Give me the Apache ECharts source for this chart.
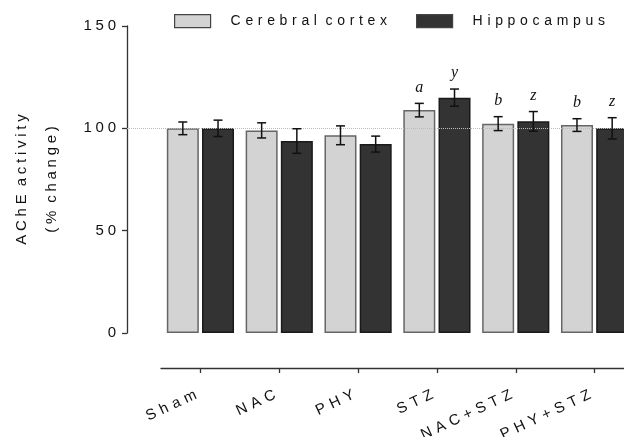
<!DOCTYPE html>
<html>
<head>
<meta charset="utf-8">
<script src="https://cdn.jsdelivr.net/npm/echarts@6/dist/echarts.min.js"></script>
<style>
  html, body { margin: 0; padding: 0; background: #fff; }
  #chart { width: 624px; height: 437px; }
</style>
</head>
<body>
<div id="chart"></div>
<script>
// data
const groups = ['Sham', 'NAC', 'PHY', 'STZ', 'NAC+STZ', 'PHY+STZ']
const cortexMean = [100, 99, 96.6, 108.9, 102.3, 101.6]
const cortexErr = [3.1, 3.7, 4.6, 3.3, 3.4, 3.1]
const hippoMean = [100, 93.8, 92.3, 115, 103.4, 100]
const hippoErr = [4, 6, 3.9, 4.2, 4.8, 5.2]
const cortexSig = ['', '', '', 'a', 'b', 'b']
const hippoSig = ['', '', '', 'y', 'z', 'z']
const refLine = 100

const FONT = 'Liberation Sans, Arial, sans-serif'
// GraphPad style wide letter spacing (unicode fixed-width spaces between letters)
function spaced(s, sp) {
  sp = sp || '\u2004'
  return s.split(' ').map(w => w.split('').join(sp)).join(sp + ' ')
}

function errRender(shift, letters) {
  return function (params, api) {
    const i = api.value(0)
    const hi = api.coord([i, api.value(1) + api.value(2)])
    const lo = api.coord([i, api.value(1) - api.value(2)])
    const x = hi[0] + shift
    const cap = 4.5
    const st = { stroke: '#111', lineWidth: 1.5 }
    const kids = [
      { type: 'line', shape: { x1: x, y1: hi[1], x2: x, y2: lo[1] }, style: st },
      { type: 'line', shape: { x1: x - cap, y1: hi[1], x2: x + cap, y2: hi[1] }, style: st },
      { type: 'line', shape: { x1: x - cap, y1: lo[1], x2: x + cap, y2: lo[1] }, style: st }
    ]
    if (letters[i]) {
      kids.push({
        type: 'text',
        style: {
          text: letters[i], x: x, y: hi[1] - 8,
          align: 'center', verticalAlign: 'bottom',
          font: 'italic 16px "Liberation Serif", "Times New Roman", serif', fill: '#111'
        }
      })
    }
    return { type: 'group', children: kids }
  }
}

const chart = echarts.init(document.getElementById('chart'))

// the bar grid reaches 35px lower than the value axis so the category axis sits detached below the bars
const pxPerUnit = (333 - 26) / 150
const barAxisMin = -35 / pxPerUnit

const option = {
  animation: false,
  grid: [
    { left: 127, right: -10, top: 26, bottom: 104, outerBoundsMode: 'none' },
    { left: 161, right: -10, top: 26, bottom: 69, outerBoundsMode: 'none' }
  ],
  legend: {
    data: ['Cerebral cortex', 'Hippocampus'],
    left: 174, top: 14, padding: 0,
    icon: 'rect',
    itemWidth: 36, itemHeight: 13, itemGap: 29,
    itemStyle: { borderColor: '#444', borderWidth: 1.2 },
    formatter: name => spaced(name),
    textStyle: { fontFamily: FONT, fontSize: 14, color: '#111', padding: [0, 0, 0, 15] }
  },
  xAxis: [
    { gridIndex: 0, type: 'value', min: 0, max: 1, show: false },
    {
      gridIndex: 1, type: 'category', data: groups,
      axisLine: { onZero: false, lineStyle: { color: '#333', width: 1.3 } },
      axisTick: { show: true, alignWithLabel: true, length: 5, lineStyle: { color: '#333', width: 1.3 } },
      axisLabel: {
        rotate: 25, margin: 24, interval: 0, color: '#111',
        fontFamily: FONT, fontSize: 15, padding: [0, 5, 0, 0],
        formatter: v => spaced(v)
      }
    }
  ],
  yAxis: [
    {
      gridIndex: 0, type: 'value', min: 0, max: 150, interval: 50,
      name: spaced('AChE activity', '\u2005') + '\n' + spaced('(% change)', '\u2005'),
      nameLocation: 'middle', nameRotate: 90, nameGap: 60,
      nameTextStyle: { fontFamily: FONT, fontSize: 15, color: '#111', lineHeight: 30 },
      axisLine: { show: true, lineStyle: { color: '#333', width: 1.3 } },
      axisTick: { show: true, length: 5, lineStyle: { color: '#333', width: 1.3 } },
      axisLabel: { margin: 11, color: '#111', fontFamily: FONT, fontSize: 15, formatter: v => spaced(String(v), '\u2005') },
      splitLine: { show: false }
    },
    { gridIndex: 1, type: 'value', min: barAxisMin, max: 150, show: false }
  ],
  series: [
    {
      type: 'line', xAxisIndex: 0, yAxisIndex: 0, data: [], z: 1,
      markLine: {
        silent: true, symbol: 'none', label: { show: false },
        lineStyle: { type: 'dotted', color: '#bbb', width: 1 },
        data: [{ yAxis: refLine }]
      }
    },
    {
      name: 'Cerebral cortex', type: 'bar', xAxisIndex: 1, yAxisIndex: 1,
      data: cortexMean, barWidth: 32, barGap: '10%',
      itemStyle: { color: '#d3d3d3', borderColor: '#666', borderWidth: 1.5 }
    },
    {
      name: 'Hippocampus', type: 'bar', xAxisIndex: 1, yAxisIndex: 1,
      data: hippoMean, barWidth: 32, barGap: '10%',
      itemStyle: { color: '#333333', borderColor: '#1a1a1a', borderWidth: 1.5 }
    },
    {
      type: 'custom', xAxisIndex: 1, yAxisIndex: 1, z: 5,
      renderItem: errRender(-17.6, cortexSig),
      data: groups.map((g, i) => [i, cortexMean[i], cortexErr[i]])
    },
    {
      type: 'custom', xAxisIndex: 1, yAxisIndex: 1, z: 5,
      renderItem: errRender(17.6, hippoSig),
      data: groups.map((g, i) => [i, hippoMean[i], hippoErr[i]])
    }
  ]
}

chart.setOption(option)
</script>
</body>
</html>
